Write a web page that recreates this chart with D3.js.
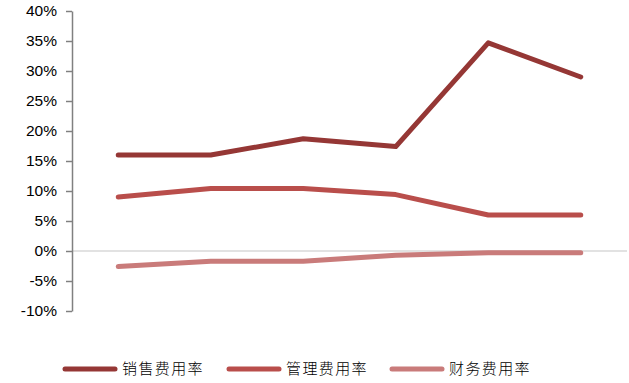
<!DOCTYPE html>
<html>
<head>
<meta charset="utf-8">
<script src="https://cdn.jsdelivr.net/npm/d3@7"></script>
<style>
  html, body { margin: 0; padding: 0; background: #fff; }
  svg { display: block; }
</style>
</head>
<body>
<svg id="chart" width="629" height="383"></svg>
<script>
// Expense ratios over six periods
const periods = ["P1", "P2", "P3", "P4", "P5", "P6"];
const seriesNames = ["销售费用率", "管理费用率", "财务费用率"];
const sellingRate = [16.0, 16.0, 18.7, 17.4, 34.7, 29.0];
const adminRate = [9.0, 10.4, 10.4, 9.4, 6.0, 6.0];
const financeRate = [-2.6, -1.7, -1.7, -0.7, -0.3, -0.3];
const yTicks = [-10, -5, 0, 5, 10, 15, 20, 25, 30, 35, 40];
const colors = ["#953735", "#b94e4b", "#c97b7a"];

const series = [sellingRate, adminRate, financeRate];

const svg = d3.select("#chart");
const margin = { left: 72, right: 2, top: 11, bottom: 72 };
const width = 629, height = 383;

const x = d3.scaleBand()
  .domain(periods)
  .range([margin.left, width - margin.right]);

const y = d3.scaleLinear()
  .domain([-10, 40])
  .range([height - margin.bottom, margin.top]);

// zero baseline
svg.append("line")
  .attr("x1", margin.left)
  .attr("x2", width - margin.right)
  .attr("y1", y(0))
  .attr("y2", y(0))
  .attr("stroke", "#d9d9d9")
  .attr("stroke-width", 1.5);

// y axis
const yAxis = d3.axisLeft(y)
  .tickValues(yTicks)
  .tickFormat(d => d + "%")
  .tickSize(6)
  .tickSizeOuter(0)
  .tickPadding(9);

const gy = svg.append("g")
  .attr("transform", `translate(${margin.left},0)`)
  .call(yAxis);
gy.select(".domain").attr("stroke", "#808080").attr("stroke-width", 1.5);
gy.selectAll(".tick line").attr("stroke", "#808080").attr("stroke-width", 1.5);
gy.selectAll(".tick text")
  .attr("fill", "#000")
  .style("font-family", "'Liberation Sans', Arial, sans-serif")
  .style("font-size", "15.5px");

// lines
const line = d3.line()
  .x((d, i) => x(periods[i]) + x.bandwidth() / 2)
  .y(d => y(d));

series.forEach((vals, k) => {
  svg.append("path")
    .datum(vals)
    .attr("d", line)
    .attr("fill", "none")
    .attr("stroke", colors[k])
    .attr("stroke-width", 5)
    .attr("stroke-linecap", "round")
    .attr("stroke-linejoin", "round");
});

// legend
const legendX = [65, 229, 392];
const legendY = 369;
seriesNames.forEach((name, k) => {
  const g = svg.append("g").attr("transform", `translate(${legendX[k]},${legendY})`);
  g.append("line")
    .attr("x1", 0).attr("x2", 50)
    .attr("y1", 0).attr("y2", 0)
    .attr("stroke", colors[k])
    .attr("stroke-width", 5)
    .attr("stroke-linecap", "round");
  g.append("text")
    .attr("x", 57)
    .attr("y", 0)
    .attr("dy", "0.36em")
    .style("font-family", "'Noto Sans CJK SC', sans-serif")
    .style("font-size", "15px")
    .style("font-weight", "300")
    .style("letter-spacing", "1.4px")
    .attr("fill", "#000")
    .text(name);
});
</script>
</body>
</html>
